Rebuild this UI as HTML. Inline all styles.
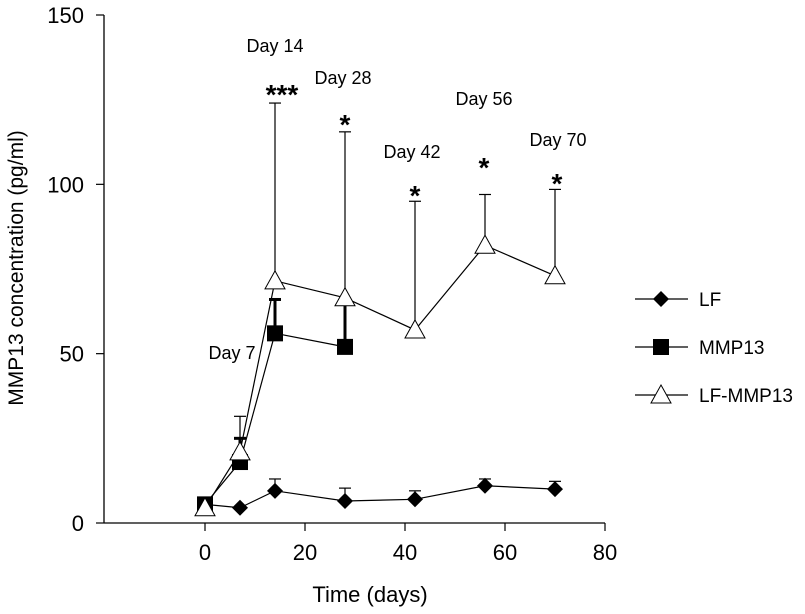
<!DOCTYPE html>
<html><head><meta charset="utf-8"><style>
body{margin:0;background:#fff}
svg text{font-family:"Liberation Sans",Arial,sans-serif;fill:#000}
</style></head><body>
<svg id="chart" width="805" height="609" viewBox="0 0 805 609" xmlns="http://www.w3.org/2000/svg"></svg>
<script>
const xTicks=[0,20,40,60,80];
const yTicks=[0,50,100,150];
const lfDays=[0,7,14,28,42,56,70];
const lfVals=[5.5,4.5,9.5,6.5,7,11,10];
const lfErr=[5.5,4.5,13,10.3,9.5,13,12.3];
const mmpDays=[0,7,14,28];
const mmpVals=[5.5,18,56,52];
const mmpErr=[5.5,25,66,66];
const lmDays=[0,7,14,28,42,56,70];
const lmVals=[4.5,21,71.5,66.5,57,82,73];
const lmErr=[4.5,31.5,124,115.5,95,97,98.5];
const annLabels=["Day 7","Day 14","Day 28","Day 42","Day 56","Day 70"];
const annStars=["","***","*","*","*","*"];

const NS="http://www.w3.org/2000/svg";
const svg=document.getElementById('chart');
const X=d=>205+d*5;
const Y=v=>523-v*(508/150);
function el(t,a,p){const e=document.createElementNS(NS,t);for(const k in a)e.setAttribute(k,a[k]);(p||svg).appendChild(e);return e;}

let a=el('line',{x1:104,y1:15,x2:104,y2:523,stroke:'#000','stroke-width':1.3});


a=el('line',{x1:104,y1:523,x2:605,y2:523,stroke:'#000','stroke-width':1.3});


yTicks.forEach(v=>{
  el('line',{x1:96,y1:Y(v),x2:104,y2:Y(v),stroke:'#000','stroke-width':1.2});
  const t=el('text',{x:84,y:Y(v)+8,'text-anchor':'end','font-size':22});t.textContent=v;
  
  
});
xTicks.forEach(v=>{
  el('line',{x1:X(v),y1:523,x2:X(v),y2:531,stroke:'#000','stroke-width':1.2});
  const t=el('text',{x:X(v),y:560,'text-anchor':'middle','font-size':22});t.textContent=v;
  
  
});
let t=el('text',{x:370,y:602,'text-anchor':'middle','font-size':22});t.textContent='Time (days)';


t=el('text',{x:0,y:0,'text-anchor':'middle','font-size':21,transform:'translate(23,268) rotate(-90)'});t.textContent='MMP13 concentration (pg/ml)';



function errs(days,vals,err,w){
  days.forEach((d,i)=>{
    const g=el('g',{});
    
    
    el('line',{x1:X(d),y1:Y(vals[i]),x2:X(d),y2:Y(err[i]),stroke:'#000','stroke-width':w},g);
    el('line',{x1:X(d)-6,y1:Y(err[i]),x2:X(d)+6,y2:Y(err[i]),stroke:'#000','stroke-width':w},g);
  });
}
function line(days,vals,name){
  const p=el('polyline',{points:days.map((d,i)=>X(d)+','+Y(vals[i])).join(' '),fill:'none',stroke:'#000','stroke-width':1.2});
  
  
}
function diamond(cx,cy,g){return el('polygon',{points:`${cx},${cy-8} ${cx+8},${cy} ${cx},${cy+8} ${cx-8},${cy}`,fill:'#000'},g);}
function square(cx,cy,g){return el('rect',{x:cx-8,y:cy-8,width:16,height:16,fill:'#000'},g);}
function tri(cx,cy,g){return el('polygon',{points:`${cx},${cy-10} ${cx+10},${cy+8} ${cx-10},${cy+8}`,fill:'#fff',stroke:'#000','stroke-width':1},g);}

errs(lfDays,lfVals,lfErr,1.2);
errs(mmpDays,mmpVals,mmpErr,3);
errs(lmDays,lmVals,lmErr,1.2);
line(lfDays,lfVals,'lf-line');
line(mmpDays,mmpVals,'mmp13-line');
line(lmDays,lmVals,'lf-mmp13-line');
lfDays.forEach((d,i)=>{const m=diamond(X(d),Y(lfVals[i]));
  
  });
mmpDays.forEach((d,i)=>{const m=square(X(d),Y(mmpVals[i]));
  
  });
lmDays.forEach((d,i)=>{const m=tri(X(d),Y(lmVals[i]));
  
  });

const annPos=[[232,359],[275,52],[343,84],[412,158],[484,105],[558,146]];
const starPos=[null,[282,104],[345,134],[415,205],[484,177],[557,193]];
annLabels.forEach((s,i)=>{
  const tx=el('text',{x:annPos[i][0],y:annPos[i][1],'text-anchor':'middle','font-size':18});tx.textContent=s;
  
  
  if(annStars[i]){const st=el('text',{x:starPos[i][0],y:starPos[i][1],'text-anchor':'middle','font-size':28,'font-weight':'bold'});st.textContent=annStars[i];
    
    }
});

const legNames=['LF','MMP13','LF-MMP13'];
const legFns=[diamond,square,tri];
legNames.forEach((n,i)=>{
  const y=299+i*48;
  const g=el('g',{});
  
  
  el('line',{x1:635,y1:y,x2:688,y2:y,stroke:'#000','stroke-width':1.2},g);
  legFns[i](661,y,g);
  const tx=el('text',{x:699,y:y+7,'font-size':19},g);tx.textContent=n;
});
</script>
</body></html>
